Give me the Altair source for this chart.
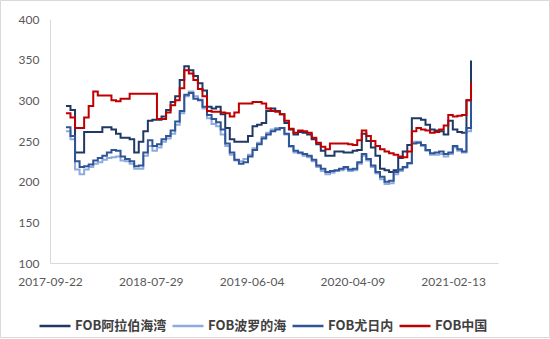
import altair as alt
import pandas as pd

# x grid: fortnightly observations
dates = pd.date_range("2017-11-10", periods=90, freq="14D")

series_names = ["FOB阿拉伯海湾", "FOB波罗的海", "FOB尤日内", "FOB中国"]
colors = ["#1F3864", "#8FAADC", "#2F5597", "#C00000"]

tick_dates = ["2017-09-22", "2018-07-29", "2019-06-04", "2020-04-09", "2021-02-13"]
y_ticks = [100, 150, 200, 250, 300, 350, 400]

arabian = [293, 288, 236, 236, 261, 261, 261, 261, 267, 267,
           264, 259, 254, 254, 252, 236, 249, 262, 275, 276,
           276, 280, 288, 298, 305, 325, 342, 337, 330, 321,
           312, 292, 290, 292, 283, 266, 252, 249, 249, 249,
           256, 268, 270, 272, 287, 290, 287, 283, 272, 264,
           258, 261, 260, 258, 252, 246, 238, 232, 232, 237,
           237, 236, 236, 238, 239, 259, 250, 242, 232, 216,
           214, 212, 214, 229, 237, 245, 278, 278, 276, 270,
           264, 263, 262, 258, 275, 264, 261, 260, 300, 349]

baltic = [262, 252, 215, 209, 215, 218, 222, 224, 227, 229,
          230, 231, 226, 225, 222, 216, 216, 232, 244, 238,
          242, 249, 253, 259, 270, 284, 305, 311, 305, 301,
          290, 278, 271, 268, 258, 244, 233, 226, 225, 228,
          233, 241, 248, 255, 260, 264, 266, 266, 258, 243,
          236, 235, 232, 230, 225, 218, 213, 209, 211, 213,
          214, 216, 213, 214, 222, 232, 226, 218, 210, 203,
          197, 198, 209, 213, 217, 222, 249, 249, 244, 238,
          233, 233, 234, 231, 234, 242, 238, 236, 262, 298]

yuzhny = [267, 256, 225, 218, 219, 221, 226, 229, 232, 236,
          239, 238, 231, 228, 225, 219, 220, 236, 251, 244,
          246, 252, 256, 263, 274, 287, 307, 309, 302, 300,
          292, 282, 277, 273, 264, 247, 236, 227, 222, 224,
          231, 239, 246, 253, 258, 262, 264, 266, 259, 244,
          238, 236, 234, 232, 227, 220, 216, 212, 213, 214,
          216, 218, 215, 216, 224, 234, 228, 220, 212, 206,
          200, 201, 212, 215, 218, 223, 247, 248, 245, 239,
          235, 236, 237, 234, 236, 244, 240, 237, 266, 302]

china = [284, 279, 266, 266, 279, 293, 311, 306, 306, 306,
         300, 299, 302, 302, 308, 308, 308, 308, 308, 308,
         277, 277, 285, 294, 300, 315, 337, 333, 325, 314,
         305, 287, 286, 286, 285, 284, 280, 285, 296, 296,
         296, 298, 298, 296, 290, 287, 286, 283, 275, 265,
         260, 263, 262, 260, 254, 248, 243, 240, 247, 247,
         247, 247, 246, 245, 251, 263, 256, 250, 244, 240,
         237, 235, 233, 231, 230, 237, 262, 266, 264, 263,
         260, 261, 264, 269, 282, 280, 281, 282, 300, 322]

all_series = [arabian, baltic, yuzhny, china]

rows = []
for name, vals in zip(series_names, all_series):
    for d, v in zip(dates, vals):
        rows.append({"date": d, "value": v, "series": name})
df = pd.DataFrame(rows)


def dt(s):
    y, m, d = (int(p) for p in s.split("-"))
    return alt.DateTime(year=y, month=m, date=d)


x_enc = alt.X(
    "date:T",
    scale=alt.Scale(domain=[dt("2017-09-22"), dt("2021-07-01")]),
    axis=alt.Axis(
        values=[dt(s) for s in tick_dates],
        format="%Y-%m-%d",
        title=None,
        grid=False,
        ticks=False,
        domainColor="#D9D9D9",
        domainWidth=1,
        labelFont="Lato",
        labelFontSize=12,
        labelColor="#595959",
        labelPadding=13,
        labelOverlap=False,
        labelFlush=False,
    ),
)
y_enc = alt.Y(
    "value:Q",
    scale=alt.Scale(domain=[100, 400], nice=False, zero=False),
    axis=alt.Axis(
        values=y_ticks,
        title=None,
        grid=False,
        ticks=False,
        domainColor="#D9D9D9",
        domainWidth=1,
        labelFont="Lato",
        labelFontSize=12,
        labelColor="#595959",
        labelPadding=11,
    ),
)
color_enc = alt.Color(
    "series:N",
    scale=alt.Scale(domain=series_names, range=colors),
    legend=alt.Legend(
        title=None,
        orient="none",
        direction="horizontal",
        legendX=-12,
        legendY=290,
        symbolType="stroke",
        symbolSize=961,
        symbolStrokeWidth=2.5,
        labelFont="Noto Sans CJK SC",
        labelFontSize=13,
        labelFontWeight="bold",
        labelColor="#404040",
        labelOffset=3,
        columnPadding=0,
        padding=0,
    ),
)

layers = []
for name in series_names:
    layers.append(
        alt.Chart(df)
        .transform_filter(alt.datum.series == name)
        .mark_line(interpolate="step-after", strokeWidth=2)
        .encode(x=x_enc, y=y_enc, color=color_enc)
    )

frame = (
    alt.Chart(pd.DataFrame({"a": [0]}))
    .mark_rect(fillOpacity=0, stroke="#D9D9D9", strokeWidth=1)
    .encode(
        x=alt.value(-49.5), x2=alt.value(499.5),
        y=alt.value(-18.5), y2=alt.value(318.5),
    )
)

chart = (
    alt.layer(frame, *layers)
    .properties(
        width=448,
        height=244,
        padding={"left": 50, "top": 19, "right": 52, "bottom": 76},
        autosize=alt.AutoSizeParams(type="none"),
        background="white",
    )
    .configure_view(stroke=None)
)

chart.save("out.html", embed_options={"renderer": "svg", "actions": False})
